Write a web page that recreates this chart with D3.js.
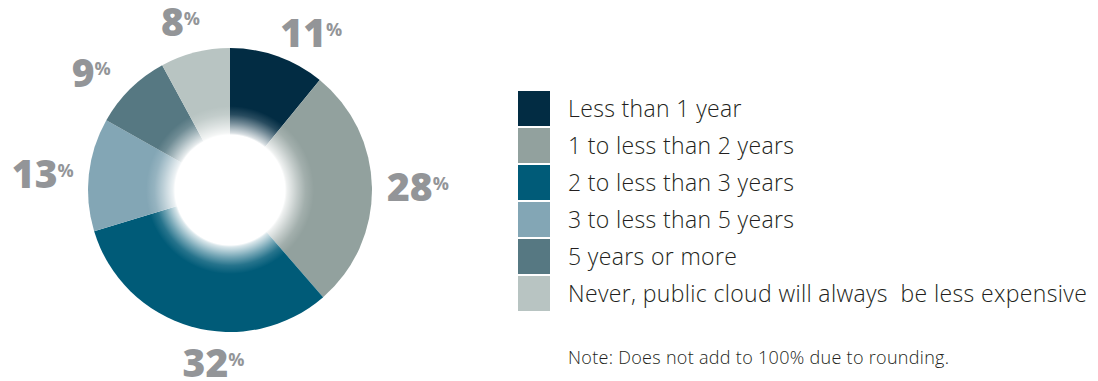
<!DOCTYPE html>
<html lang="en">
<head>
  <meta charset="UTF-8" />
  <title>Break-even donut</title>
  <style>
    body { margin:0; background:#fff; }
    #chart { display:block; }
  </style>
</head>
<body>
  <svg id="chart" width="1098" height="381"></svg>
  <script src="https://d3js.org/d3.v7.min.js"></script>
  <script>
  // — data —
  const categories = [
    "Less than 1 year",
    "1 to less than 2 years",
    "2 to less than 3 years",
    "3 to less than 5 years",
    "5 years or more",
    "Never, public cloud will always  be less expensive"
  ];
  const shares = [11, 28, 32, 13, 9, 8];
  const colors = ["#022c43", "#92a19e", "#005b78", "#83a6b5", "#567882", "#b8c4c2"];
  const note = "Note: Does not add to 100% due to rounding.";

  // layout
  const svg = d3.select("#chart"),
        cx = 230, cy = 190,
        rOuter = 142, rInner = 55,
        labRx = 188, labRy = 174;   // labels sit on a slightly wide ellipse
  // small hand nudges (degrees) so labels clear each other like the original
  const labelNudge = [6, 0, -11, -1, -3, -1];

  const pie = d3.pie().sort(null).value(d => d.v);
  const arcs = pie(shares.map((v, i) => ({v, i})));
  const arc = d3.arc().innerRadius(0).outerRadius(rOuter);

  const g = svg.append("g").attr("transform", `translate(${cx},${cy})`);

  g.selectAll("path.slice")
    .data(arcs).join("path")
      .attr("class", "slice")
      .attr("d", arc)
      .attr("fill", d => colors[d.data.i]);

  // soft white glow round the hole
  const defs = svg.append("defs");
  const grad = defs.append("radialGradient").attr("id", "glow")
    .attr("cx", "50%").attr("cy", "50%").attr("r", "50%");
  const rGlow = 84;
  [[0, 1], [rInner / rGlow, 1], [(rInner + 2) / rGlow, 0.85], [0.8, 0.45], [0.9, 0.15], [1, 0]]
    .forEach(([o, a]) => grad.append("stop")
      .attr("offset", o).attr("stop-color", "#fff").attr("stop-opacity", a));
  g.append("circle").attr("r", rGlow).attr("fill", "url(#glow)");
  g.append("circle").attr("r", rInner).attr("fill", "#fff");

  // percentage labels
  const mid = d => (d.startAngle + d.endAngle) / 2 + labelNudge[d.data.i] * Math.PI / 180;
  const lbl = g.selectAll("text.pct")
    .data(arcs).join("text")
      .attr("class", "pct")
      .attr("x", d => labRx * Math.sin(mid(d)))
      .attr("y", d => -labRy * Math.cos(mid(d)))
      .attr("text-anchor", "middle")
      .style("font-family", "'Open Sans', sans-serif")
      .style("font-weight", 800)
      .style("font-size", "39px")
      .style("fill", "#939598");
  lbl.append("tspan").attr("dy", "0.36em").text(d => d.data.v);
  lbl.append("tspan").attr("dy", "-0.62em").style("font-size", "18px").style("font-weight", 700).text("%");

  // legend
  const lx = 518, ly = 91, step = 37;
  const leg = svg.append("g").selectAll("g")
    .data(categories).join("g")
      .attr("transform", (d, i) => `translate(${lx},${ly + i * step})`);
  leg.append("rect").attr("width", 32).attr("height", 35)
    .attr("fill", (d, i) => colors[i]);
  leg.append("text")
    .attr("x", 50).attr("y", 25.5)
    .style("white-space", "pre")
    .style("font-family", "'Open Sans', sans-serif")
    .style("font-weight", 300)
    .style("font-size", "23px")
    .style("letter-spacing", "0.35px")
    .style("fill", "#231f20")
    .text(d => d);

  svg.append("text")
    .attr("x", 568).attr("y", 364)
    .style("font-family", "'Open Sans', sans-serif")
    .style("font-weight", 300)
    .style("font-size", "18px")
    .style("letter-spacing", "0.3px")
    .style("fill", "#231f20")
    .text(note);
  </script>
</body>
</html>
